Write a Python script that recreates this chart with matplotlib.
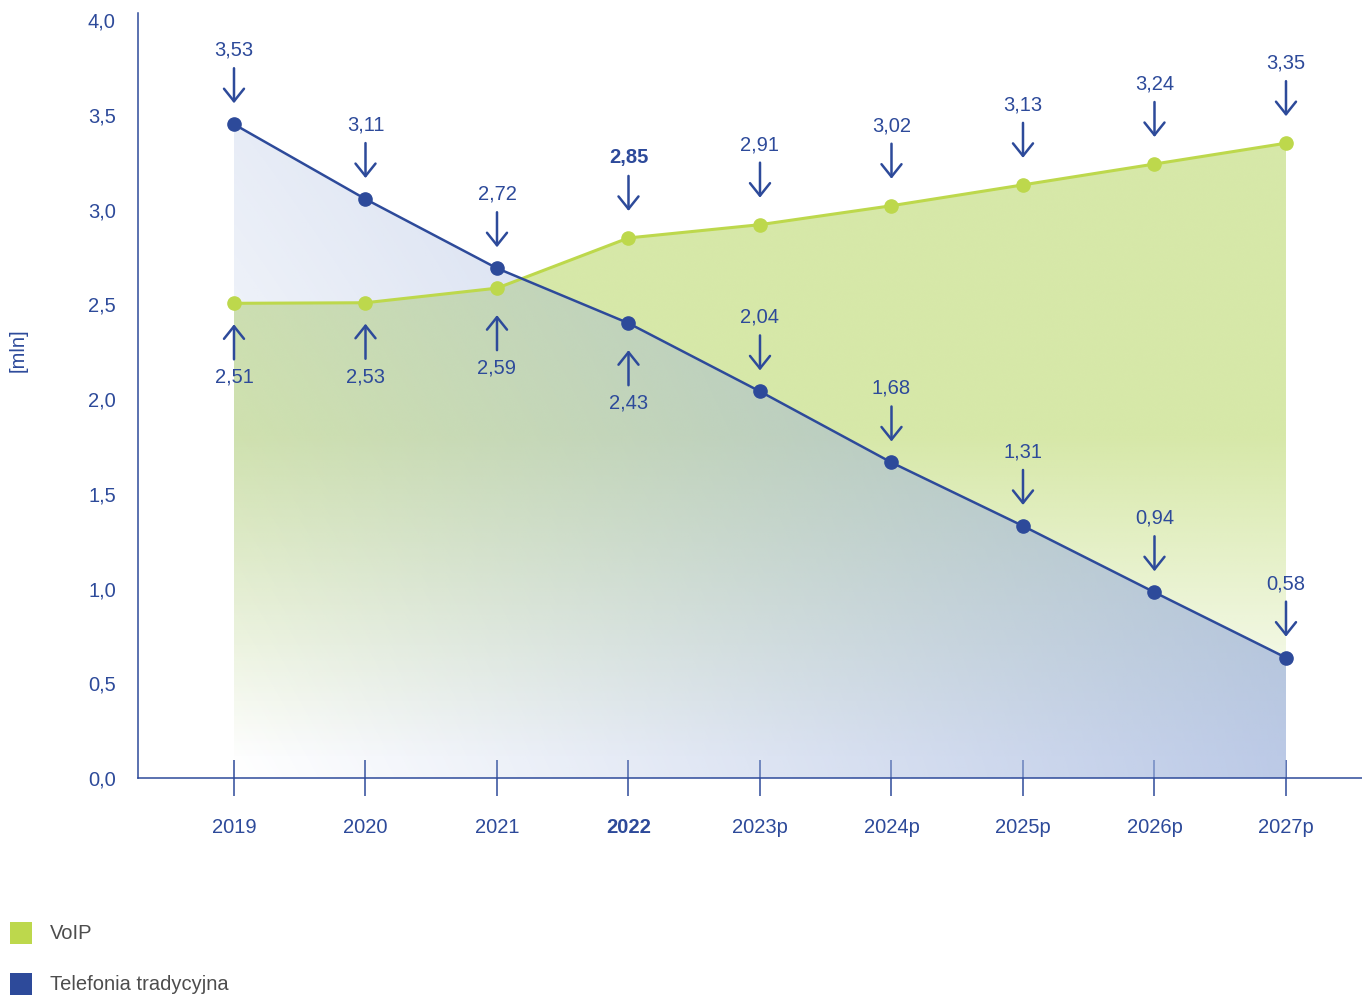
#!/usr/bin/env python3
"""Abonenci VoIP vs telefonia tradycyjna 2019-2027p."""

import matplotlib
matplotlib.use("Agg")
import matplotlib.pyplot as plt
import numpy as np
from matplotlib.patches import PathPatch, Rectangle

BLUE = "#2d4a9a"
GREEN = "#bdd84c"
GREEN_FILL = np.array([0xbc, 0xd9, 0x6f]) / 255
BLUE_FILL = np.array([0x9f, 0xb3, 0xdc]) / 255

years = ["2019", "2020", "2021", "2022", "2023p", "2024p", "2025p", "2026p", "2027p"]
voip = [2.505, 2.508, 2.585, 2.85, 2.92, 3.02, 3.13, 3.24, 3.35]
trad = [3.45, 3.055, 2.69, 2.40, 2.04, 1.665, 1.33, 0.98, 0.635]
voip_labels = ["2,51", "2,53", "2,59", "2,85", "2,91", "3,02", "3,13", "3,24", "3,35"]
trad_labels = ["3,53", "3,11", "2,72", "2,43", "2,04", "1,68", "1,31", "0,94", "0,58"]
# +1 = label above (arrow pointing down), -1 = below (arrow pointing up)
voip_side = [-1, -1, -1, 1, 1, 1, 1, 1, 1]
trad_side = [1, 1, 1, -1, 1, 1, 1, 1, 1]
# extra distance (px) of arrow+label from the point
voip_gap = [0, 0, 6, 6, 6, 6, 6, 6, 6]
trad_gap = [0, 0, 0, 6, 0, 0, 0, 0, 0]
bold_idx = 3

plt.rcParams["font.family"] = ["Liberation Sans", "DejaVu Sans"]
FS = 14.5

fig = plt.figure(figsize=(13.62, 9.96), dpi=100)
ax = fig.add_axes([138 / 1362, 218 / 996, 1224 / 1362, 765 / 996])
x = np.arange(len(years))
ax.set_xlim(-0.73, 8.578)
ax.set_ylim(0, 4.037)


def gradient_fill(values, alpha_fn, rgb, z):
    poly = ax.fill_between(x, 0, values, facecolor="none", edgecolor="none")
    path = poly.get_paths()[0]
    ytop = max(values)
    grid = np.linspace(0, 1, 300)
    U, V = np.meshgrid(grid, grid)
    img = np.zeros((300, 300, 4))
    img[..., :3] = rgb
    img[..., 3] = alpha_fn(U, V * ytop)
    im = ax.imshow(img, extent=[0, len(values) - 1, 0, ytop], origin="lower",
                   aspect="auto", zorder=z, interpolation="bilinear")
    patch = PathPatch(path, transform=ax.transData, facecolor="none", edgecolor="none")
    ax.add_patch(patch)
    im.set_clip_path(patch)


def green_alpha(u, y):
    return 0.6 * np.clip((y - 0.1) / 1.7, 0, 1)


def blue_alpha(u, y):
    v = y / max(trad)
    return (1 - u) * v * 0.25 + u * (1 - v) * 0.7 + u * v * 0.78


gradient_fill(voip, green_alpha, GREEN_FILL, 1)
gradient_fill(trad, blue_alpha, BLUE_FILL, 2)

ax.plot(x, voip, color=GREEN, lw=2.2, marker="o", ms=9.5, zorder=4)
ax.plot(x, trad, color=BLUE, lw=1.8, marker="o", ms=9.5, zorder=5)

for vals, labels, sides, gaps in ((voip, voip_labels, voip_side, voip_gap),
                                  (trad, trad_labels, trad_side, trad_gap)):
    for i, (v, lab, s, g) in enumerate(zip(vals, labels, sides, gaps)):
        ax.annotate("", xy=(i, v), xytext=(0, (56 + g) * s), textcoords="offset pixels",
                    arrowprops=dict(arrowstyle="->, head_length=0.45, head_width=0.36",
                                    color=BLUE, lw=1.8, shrinkA=0,
                                    shrinkB=(21 + g) * 0.72, mutation_scale=20),
                    zorder=6)
        bold = vals is voip and i == bold_idx
        ax.annotate(lab, xy=(i, v), xytext=(0, (74 + g) * s), textcoords="offset pixels",
                    ha="center", va="center", fontsize=FS, color=BLUE,
                    fontweight="bold" if bold else "normal", zorder=6)

ax.set_xticks(x)
ax.set_xticklabels(years)
for i, t in enumerate(ax.get_xticklabels()):
    t.set_color(BLUE)
    t.set_fontsize(FS)
    if i == bold_idx:
        t.set_fontweight("bold")
ax.tick_params(axis="x", direction="inout", length=26.6, width=1.1, color=BLUE, pad=15.5)

yt = np.arange(0, 4.01, 0.5)
ax.set_yticks(yt)
ax.set_yticklabels([f"{v:.1f}".replace(".", ",") for v in yt], color=BLUE, fontsize=FS)
ax.tick_params(axis="y", length=0, pad=16)

for side in ("top", "right"):
    ax.spines[side].set_visible(False)
for side in ("left", "bottom"):
    ax.spines[side].set_color(BLUE)
    ax.spines[side].set_linewidth(1.1)
ax.set_facecolor("none")

fig.text(18 / 1362, 1 - 350 / 996, "[mln]", rotation=90, ha="center", va="center",
         fontsize=FS, color=BLUE)

# legenda
for yc, col, name in ((933, GREEN, "VoIP"), (984, BLUE, "Telefonia tradycyjna")):
    fig.patches.append(Rectangle((10 / 1362, 1 - (yc + 11) / 996), 22 / 1362, 22 / 996,
                                 transform=fig.transFigure, facecolor=col, edgecolor="none"))
    fig.text(50 / 1362, 1 - yc / 996, name, ha="left", va="center", fontsize=FS,
             color="#4d4d4d")

fig.savefig("out.png", dpi=100)
